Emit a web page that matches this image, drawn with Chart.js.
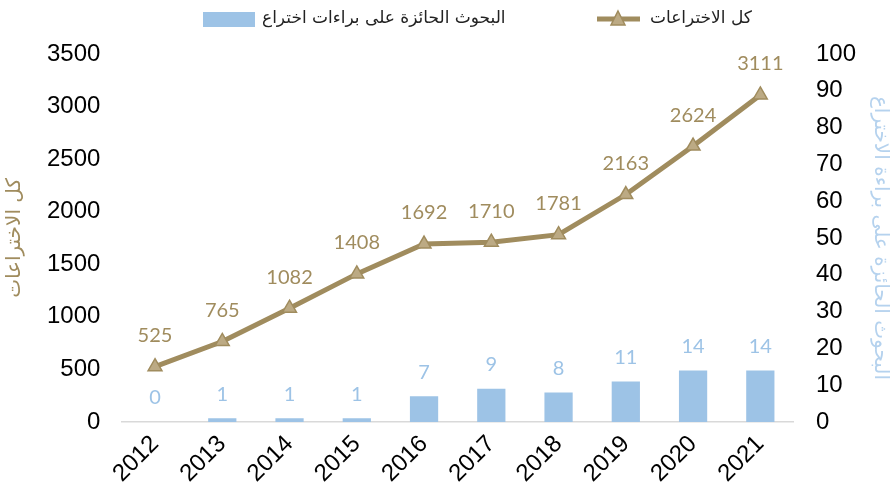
<!DOCTYPE html>
<html>
<head>
<meta charset="utf-8">
<script src="https://cdn.jsdelivr.net/npm/chart.js@4/dist/chart.umd.min.js"></script>
<style>
body { margin: 0; background: #fff; }
#wrap { width: 895px; height: 498px; position: relative; }
</style>
</head>
<body>
<div id="wrap"><canvas id="chart"></canvas></div>
<script>
var years = ['2012', '2013', '2014', '2015', '2016', '2017', '2018', '2019', '2020', '2021'];
var allInventions = [525, 765, 1082, 1408, 1692, 1710, 1781, 2163, 2624, 3111];
var patentedPapers = [0, 1, 1, 1, 7, 9, 8, 11, 14, 14];

var lineName = 'كل الاختراعات';
var barName = 'البحوث الحائزة على براءات اختراع';
var leftTitle = 'كل الاختراعات';
var rightTitle = 'البحوث الحائزة على براءة الاختراع';

var gold = '#A08C5E';
var goldFill = '#BCAA84';
var blue = '#9DC3E6';
var arabicFont = '"DejaVu Sans", "Noto Sans", sans-serif';
var tickFont = { family: '"Liberation Sans", Arial, sans-serif', size: 24 };

// value labels above points and bars
var valueLabels = {
  id: 'valueLabels',
  afterDatasetsDraw: function(chart) {
    var ctx = chart.ctx;
    chart.data.datasets.forEach(function(ds, i) {
      var meta = chart.getDatasetMeta(i);
      ctx.save();
      ctx.font = '20px Lato, "Noto Sans", sans-serif';
      ctx.fillStyle = ds.labelColor;
      ctx.textAlign = 'center';
      ctx.textBaseline = 'middle';
      meta.data.forEach(function(el, j) {
        ctx.fillText(ds.data[j], el.x, el.y - ds.labelOffset);
      });
      ctx.restore();
    });
  }
};

// legend drawn by hand, Excel style
var topLegend = {
  id: 'topLegend',
  afterDraw: function(chart) {
    var ctx = chart.ctx;
    var y = 19;
    ctx.save();
    ctx.font = '17px ' + arabicFont;
    ctx.textBaseline = 'middle';
    ctx.textAlign = 'left';
    ctx.fillStyle = blue;
    ctx.fillRect(203, 12, 52, 15);
    ctx.fillStyle = '#222';
    ctx.fillText(barName, 262, y);

    ctx.strokeStyle = gold;
    ctx.lineWidth = 5;
    ctx.beginPath();
    ctx.moveTo(597, y);
    ctx.lineTo(640, y);
    ctx.stroke();
    ctx.fillStyle = goldFill;
    ctx.lineWidth = 1.5;
    ctx.beginPath();
    ctx.moveTo(618, y - 8);
    ctx.lineTo(625, y + 6);
    ctx.lineTo(611, y + 6);
    ctx.closePath();
    ctx.fill();
    ctx.stroke();
    ctx.fillStyle = '#222';
    ctx.fillText(lineName, 650, y);
    ctx.restore();
  }
};

var ctx = document.getElementById('chart').getContext('2d');
var chart = new Chart(ctx, {
  data: {
    labels: years,
    datasets: [
      {
        type: 'line',
        label: lineName,
        data: allInventions,
        yAxisID: 'y',
        borderColor: gold,
        borderWidth: 5,
        pointStyle: 'triangle',
        pointRadius: 8,
        pointBackgroundColor: goldFill,
        pointBorderColor: gold,
        pointBorderWidth: 1.5,
        tension: 0,
        order: 1,
        labelColor: gold,
        labelOffset: 31
      },
      {
        type: 'bar',
        label: barName,
        data: patentedPapers,
        yAxisID: 'y1',
        backgroundColor: blue,
        barPercentage: 1,
        categoryPercentage: 0.42,
        order: 2,
        labelColor: blue,
        labelOffset: 24
      }
    ]
  },
  options: {
    responsive: true,
    maintainAspectRatio: false,
    animation: false,
    layout: { padding: { top: 54, left: 0, right: 0, bottom: 2 } },
    plugins: {
      legend: { display: false },
      tooltip: { enabled: false }
    },
    scales: {
      x: {
        grid: { display: false, drawTicks: false },
        border: { display: true, color: '#D9D9D9', width: 1.5 },
        ticks: {
          font: tickFont,
          color: '#000',
          minRotation: 45,
          maxRotation: 45,
          autoSkip: false,
          padding: 8
        }
      },
      y: {
        position: 'left',
        min: 0,
        max: 3500,
        grid: { display: false, drawTicks: false },
        border: { display: false },
        ticks: {
          stepSize: 500,
          font: tickFont,
          color: '#000',
          padding: 21,
          callback: function(v) { return String(v); }
        },
        title: {
          display: true,
          text: leftTitle,
          color: gold,
          font: { family: arabicFont, size: 20 },
          padding: { top: 3, bottom: -1 }
        }
      },
      y1: {
        position: 'right',
        min: 0,
        max: 100,
        grid: { display: false, drawTicks: false },
        border: { display: false },
        ticks: { stepSize: 10, font: tickFont, color: '#000', padding: 22 },
        title: {
          display: true,
          text: rightTitle,
          color: '#B5D2EE',
          font: { family: arabicFont, size: 20 },
          padding: { top: 3, bottom: -10 }
        }
      }
    }
  },
  plugins: [valueLabels, topLegend]
});
</script>
</body>
</html>
